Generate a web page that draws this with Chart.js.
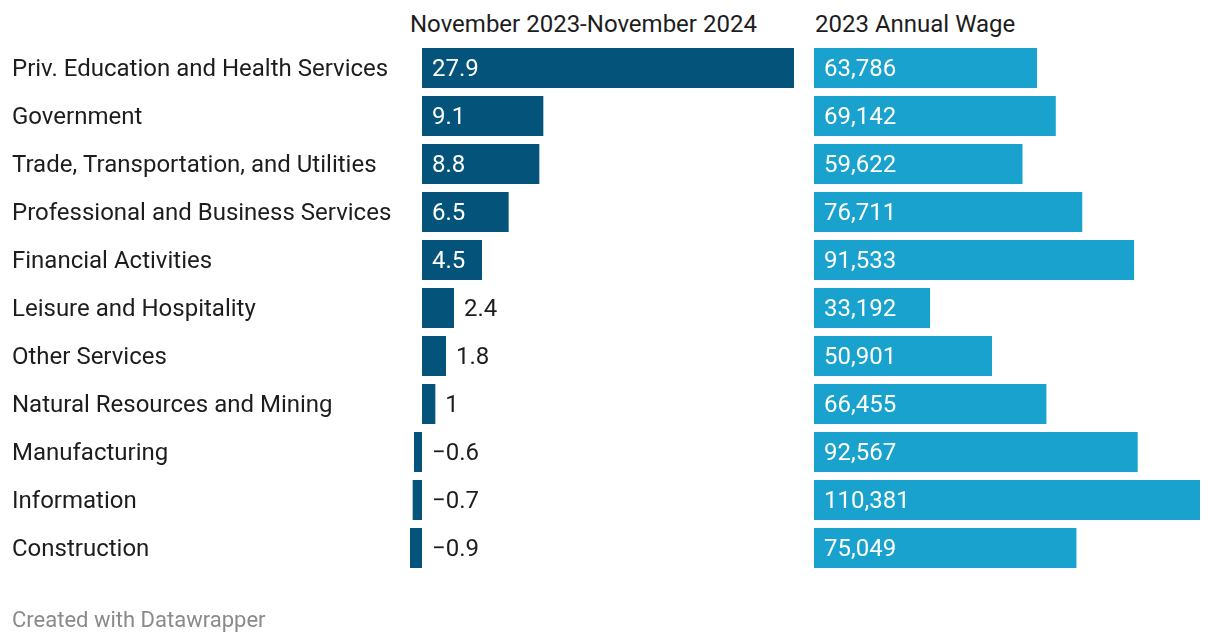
<!DOCTYPE html>
<html>
<head>
<meta charset="utf-8">
<script src="https://cdn.jsdelivr.net/npm/chart.js@4.4.1/dist/chart.umd.min.js"></script>
<style>
  body { margin: 0; background: #fff; font-family: Roboto, sans-serif; }
  #wrap { position: relative; width: 1220px; height: 644px; overflow: hidden; }
  .head { position: absolute; top: 12px; font-size: 24px; line-height: 24px; color: #1d1d1d; white-space: nowrap; }
  #foot { position: absolute; left: 12px; top: 609px; font-size: 22px; line-height: 22px; color: #8a8a8a; }
  canvas { position: absolute; top: 0; }
</style>
</head>
<body>
<div id="wrap">
  <div class="head" style="left:410px">November 2023-November 2024</div>
  <div class="head" style="left:815px">2023 Annual Wage</div>
  <canvas id="chgChart" style="left:0"></canvas>
  <canvas id="wageChart" style="left:804px"></canvas>
  <div id="foot">Created with Datawrapper</div>
</div>
<script>
const industries = [
  'Priv. Education and Health Services',
  'Government',
  'Trade, Transportation, and Utilities',
  'Professional and Business Services',
  'Financial Activities',
  'Leisure and Hospitality',
  'Other Services',
  'Natural Resources and Mining',
  'Manufacturing',
  'Information',
  'Construction'
];
const jobChange = [27.9, 9.1, 8.8, 6.5, 4.5, 2.4, 1.8, 1, -0.6, -0.7, -0.9];
const annualWage = [63786, 69142, 59622, 76711, 91533, 33192, 50901, 66455, 92567, 110381, 75049];

const DARK = '#03537b';
const LIGHT = '#19a2cd';
const TEXT = '#1d1d1d';
const valueFont = '24px Roboto';

// value labels, inside the bar when they fit, otherwise just right of it
const valueLabels = {
  id: 'valueLabels',
  afterDatasetsDraw(chart, args, opts) {
    const ctx = chart.ctx;
    const meta = chart.getDatasetMeta(0);
    const zero = chart.scales.x.getPixelForValue(0);
    ctx.save();
    ctx.font = valueFont;
    ctx.textBaseline = 'middle';
    ctx.textAlign = 'left';
    meta.data.forEach((bar, i) => {
      const v = chart.data.datasets[0].data[i];
      const txt = opts.format(v);
      const w = ctx.measureText(txt).width;
      const barW = Math.abs(bar.x - bar.base);
      const y = bar.y + 2;
      if (v > 0 && w + 20 <= barW) {
        ctx.fillStyle = '#fff';
        ctx.fillText(txt, Math.min(bar.base, bar.x) + 10, y);
      } else {
        ctx.fillStyle = TEXT;
        ctx.fillText(txt, Math.max(bar.x, zero) + 10, y);
      }
    });
    ctx.restore();
  }
};

function makeCanvas(id, w, h) {
  const c = document.getElementById(id);
  c.style.width = w + 'px';
  c.style.height = h + 'px';
  return c;
}

new Chart(makeCanvas('chgChart', 810, 644), {
  type: 'bar',
  data: {
    labels: industries,
    datasets: [{
      data: jobChange,
      backgroundColor: DARK,
      barPercentage: 40 / 48,
      categoryPercentage: 1
    }]
  },
  options: {
    indexAxis: 'y',
    responsive: false,
    animation: false,
    layout: { padding: { left: 12, right: 16, top: 44, bottom: 72 } },
    plugins: {
      legend: { display: false },
      tooltip: { enabled: false },
      valueLabels: { format: v => (v < 0 ? '\u2212' + Math.abs(v) : String(v)) }
    },
    scales: {
      x: { display: false, min: -0.9, max: 27.9 },
      y: {
        grid: { display: false },
        border: { display: false },
        ticks: {
          crossAlign: 'far',
          color: TEXT,
          font: { family: 'Roboto', size: 24 },
          padding: 0,
          labelOffset: 2
        },
        afterFit(scale) { scale.width = 398; }
      }
    }
  },
  plugins: [valueLabels]
});

new Chart(makeCanvas('wageChart', 416, 644), {
  type: 'bar',
  data: {
    labels: industries,
    datasets: [{
      data: annualWage,
      backgroundColor: LIGHT,
      barPercentage: 40 / 48,
      categoryPercentage: 1
    }]
  },
  options: {
    indexAxis: 'y',
    responsive: false,
    animation: false,
    layout: { padding: { left: 10, right: 20, top: 44, bottom: 72 } },
    plugins: {
      legend: { display: false },
      tooltip: { enabled: false },
      valueLabels: { format: v => v.toLocaleString('en-US') }
    },
    scales: {
      x: { display: false, min: 0, max: 110381 },
      y: { display: false }
    }
  },
  plugins: [valueLabels]
});
</script>
</body>
</html>
